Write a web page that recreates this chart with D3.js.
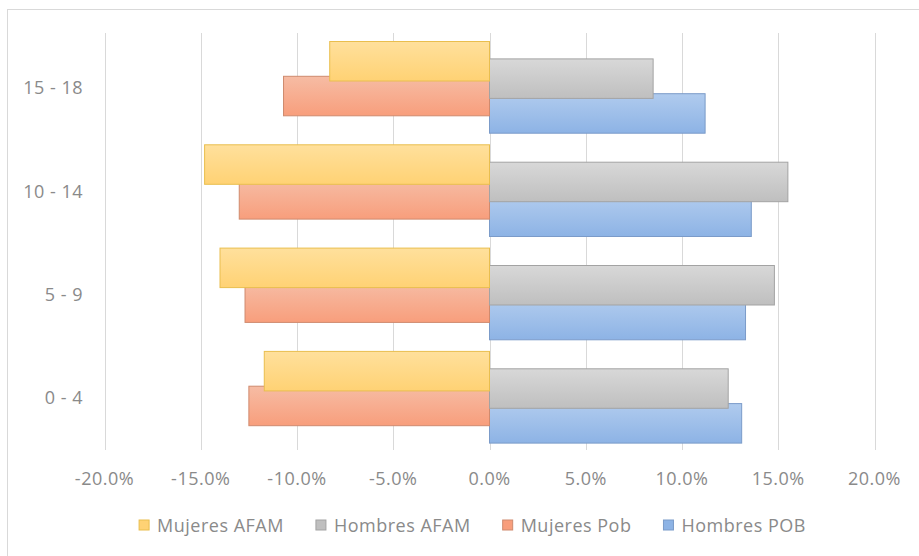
<!DOCTYPE html>
<html>
<head>
<meta charset="utf-8">
<script src="https://cdn.jsdelivr.net/npm/d3@7/dist/d3.min.js"></script>
<style>
  html, body { margin: 0; padding: 0; background: #fff; }
  svg { display: block; }
  text { font-family: "Open Sans", "DejaVu Sans", sans-serif; fill: #8a8a8a; letter-spacing: 0.5px; }
</style>
</head>
<body>
<svg id="chart" width="919" height="556"></svg>
<script>
// ---- data ----
const categories = ["0 - 4", "5 - 9", "10 - 14", "15 - 18"];
const seriesNames = ["Mujeres AFAM", "Hombres AFAM", "Mujeres Pob", "Hombres POB"];
const mujeresAFAM = [-11.7, -14.0, -14.8, -8.3];
const hombresAFAM = [12.4, 14.8, 15.5, 8.5];
const mujeresPob  = [-12.5, -12.7, -13.0, -10.7];
const hombresPOB  = [13.1, 13.3, 13.6, 11.2];
const xTicks = [-20, -15, -10, -5, 0, 5, 10, 15, 20];

const seriesValues = [mujeresAFAM, hombresAFAM, mujeresPob, hombresPOB];
const styles = [
  { top: "#FFE09C", bot: "#FFD274", stroke: "#E9BE4E" },
  { top: "#D8D8D8", bot: "#BFBFBF", stroke: "#A3A3A3" },
  { top: "#F6BCA4", bot: "#F89E7C", stroke: "#CF8A6E" },
  { top: "#B0CBEE", bot: "#8DB3E5", stroke: "#7B9BC9" }
];

const svg = d3.select("#chart");
const defs = svg.append("defs");
styles.forEach((s, i) => {
  const g = defs.append("linearGradient").attr("id", "g" + i)
    .attr("x1", 0).attr("y1", 0).attr("x2", 0).attr("y2", 1);
  g.append("stop").attr("offset", "0%").attr("stop-color", s.top);
  g.append("stop").attr("offset", "100%").attr("stop-color", s.bot);
});

// chart border
svg.append("rect").attr("x", 7.5).attr("y", 9.5).attr("width", 1000).attr("height", 1000)
  .attr("fill", "none").attr("stroke", "#D9D9D9");

const plotTop = 35.7, plotBot = 448.9;
const x = d3.scaleLinear().domain([-20, 20]).range([104.5, 874.5]);
const y = d3.scaleBand().domain(categories.slice().reverse()).range([plotTop, plotBot]).padding(0);

// gridlines
svg.append("g").selectAll("line").data(xTicks).join("line")
  .attr("x1", d => Math.round(x(d)) + 0.5).attr("x2", d => Math.round(x(d)) + 0.5)
  .attr("y1", 33).attr("y2", 450)
  .attr("stroke", "#D9D9D9").attr("stroke-width", 1);

// bar geometry (Excel-like gap width / overlap)
const band = y.bandwidth();
const barH = 39.5;
const step = 17.4;
const groupH = barH + step * (seriesNames.length - 1);
const offset = (band - groupH) / 2;
const sIdx = d3.scalePoint().domain(seriesNames).range([0, step * (seriesNames.length - 1)]);

// draw in reverse order so earlier series sit on top
const drawOrder = [3, 2, 1, 0];
drawOrder.forEach(si => {
  const vals = seriesValues[si];
  svg.append("g").selectAll("rect").data(categories.map((c, i) => ({ c, v: vals[i] }))).join("rect")
    .attr("x", d => Math.min(x(0), x(d.v)))
    .attr("width", d => Math.abs(x(d.v) - x(0)))
    .attr("y", d => y(d.c) + offset + sIdx(seriesNames[si]))
    .attr("height", barH)
    .attr("fill", "url(#g" + si + ")")
    .attr("stroke", styles[si].stroke)
    .attr("stroke-width", 1);
});

// x axis labels
const fmt = d => d.toFixed(1) + "%";
svg.append("g").selectAll("text").data(xTicks).join("text")
  .attr("x", d => x(d)).attr("y", 478)
  .attr("text-anchor", "middle").attr("dominant-baseline", "central")
  .style("font-size", "18px")
  .text(fmt);

// category labels
svg.append("g").selectAll("text").data(categories).join("text")
  .attr("x", 83).attr("y", d => y(d) + band / 2)
  .attr("text-anchor", "end").attr("dominant-baseline", "central")
  .style("font-size", "18px")
  .text(d => d);

// legend
const legend = svg.append("g");
const items = legend.selectAll("g").data(seriesNames).join("g");
items.append("rect").attr("width", 10).attr("height", 10).attr("y", 520)
  .attr("fill", (d, i) => styles[i].bot).attr("stroke", (d, i) => styles[i].stroke);
items.append("text").attr("x", 18).attr("y", 525)
  .attr("dominant-baseline", "central").style("font-size", "18px")
  .text(d => d);
const gapItems = 32;
let widths = [];
items.each(function() { widths.push(d3.select(this).select("text").node().getComputedTextLength() + 18); });
const total = d3.sum(widths) + gapItems * (widths.length - 1);
let cx = 472.5 - total / 2;
items.each(function(d, i) {
  d3.select(this).attr("transform", "translate(" + cx + ",0)");
  cx += widths[i] + gapItems;
});
</script>
</body>
</html>
